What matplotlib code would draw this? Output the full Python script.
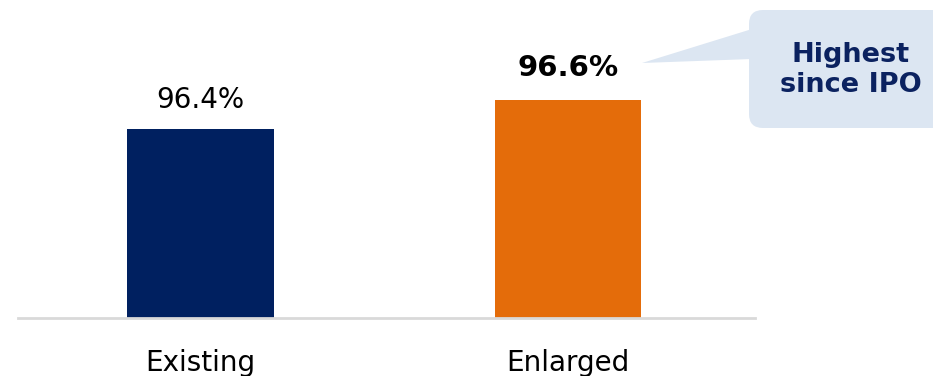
import matplotlib.pyplot as plt
from matplotlib.patches import FancyBboxPatch, Polygon

# occupancy by portfolio
categories = ["Existing", "Enlarged"]
occupancy = [96.4, 96.6]
labels = ["96.4%", "96.6%"]
bar_colors = ["#002060", "#E46C0A"]
callout_text = "Highest\nsince IPO"

fig = plt.figure(figsize=(9.33, 3.76), dpi=100)
ax = fig.add_axes([18 / 933, 58 / 376, 737 / 933, 318 / 376])

x = range(len(categories))
bars = ax.bar(x, occupancy, width=0.4, color=bar_colors, zorder=2)
ax.set_ylim(95.1, 97.29)
ax.set_xlim(-0.497, 1.509)

# value labels, the enlarged one in bold
ax.annotate(labels[0], (0, occupancy[0]), xytext=(0, 21), textcoords="offset points",
            ha="center", va="center", fontsize=20, color="black")
ax.annotate(labels[1], (1, occupancy[1]), xytext=(0, 23), textcoords="offset points",
            ha="center", va="center", fontsize=21, fontweight="bold", color="black")

ax.set_xticks(list(x))
ax.set_xticklabels(categories, fontsize=20)
ax.tick_params(axis="x", length=0, pad=22)
ax.set_yticks([])
for side in ["top", "right", "left"]:
    ax.spines[side].set_visible(False)
ax.spines["bottom"].set_color("#d9d9d9")
ax.spines["bottom"].set_linewidth(2)

# speech bubble, drawn in pixel coordinates
over = fig.add_axes([0, 0, 1, 1], facecolor="none")
over.set_xlim(0, 933)
over.set_ylim(376, 0)
over.axis("off")
over.add_patch(FancyBboxPatch((749, 10), 220, 118, boxstyle="round,pad=0,rounding_size=14",
                              facecolor="#DCE6F2", edgecolor="none", clip_on=True))
over.add_patch(Polygon([(752, 29), (642, 63), (752, 59)], closed=True,
                       facecolor="#DCE6F2", edgecolor="none"))
over.text(851, 70, callout_text, ha="center", va="center", fontsize=19.5,
          fontweight="bold", color="#0B2260", linespacing=1.15)

fig.savefig("out.png", dpi=100)
